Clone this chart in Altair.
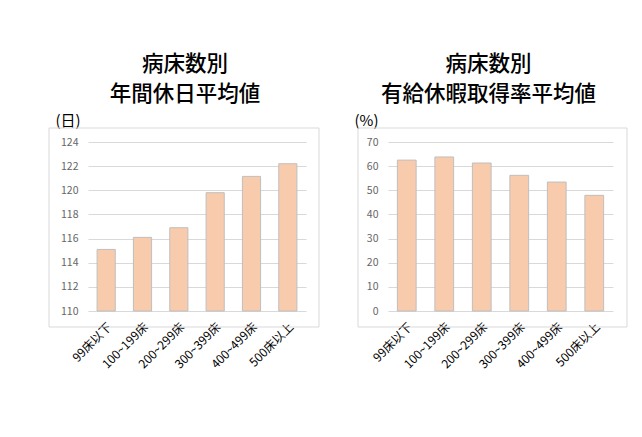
import altair as alt
import pandas as pd

categories = ["99床以下", "100~199床", "200~299床", "300~399床", "400~499床", "500床以上"]
holidays = [115.1, 116.1, 116.9, 119.8, 121.15, 122.2]
paid_leave = [62.5, 63.8, 61.3, 56.2, 53.4, 47.9]
left_ticks = [110, 112, 114, 116, 118, 120, 122, 124]
right_ticks = [0, 10, 20, 30, 40, 50, 60, 70]
left_title = ["病床数別", "年間休日平均値"]
right_title = ["病床数別", "有給休暇取得率平均値"]
left_unit = "(日)"
right_unit = "(%)"

FONT = "Noto Sans CJK JP"


def panel(values, ticks, lo, hi, unit, title, width, frame, unit_x):
    df = pd.DataFrame({"cat": categories, "val": values})
    bars = alt.Chart(df).mark_bar(fill="#F8CBAD", stroke="#BFBFBF", strokeWidth=1).encode(
        x=alt.X("cat:N", sort=categories,
                scale=alt.Scale(paddingInner=0.5, paddingOuter=0.25),
                axis=alt.Axis(title=None, labelAngle=-45, labelFontSize=12,
                              labelColor="#000000", ticks=False, domain=False,
                              labelPadding=10, labelFont=FONT)),
        y=alt.Y("val:Q", scale=alt.Scale(domain=[lo, hi], zero=False, nice=False),
                axis=alt.Axis(values=ticks, title=unit, titleAngle=0, titleX=unit_x,
                              titleY=-22, titleAlign="left", titleBaseline="middle",
                              titleFontSize=15, titleFontWeight="normal", titleFont=FONT,
                              titleColor="#000000",
                              labelFontSize=10.5, labelColor="#666666", labelFont=FONT,
                              ticks=False, domain=False, labelPadding=10,
                              gridColor="#D9D9D9")),
        y2=alt.datum(lo),
    )
    box = alt.Chart(pd.DataFrame({"k": [0]})).mark_rect(
        fillOpacity=0, stroke="#D9D9D9", strokeWidth=1
    ).encode(
        x=alt.value(frame[0]), x2=alt.value(frame[1]),
        y=alt.value(frame[2]), y2=alt.value(frame[3]),
    )
    return alt.layer(box, bars).properties(
        width=width, height=169,
        title=alt.Title(title, fontSize=21.5, fontWeight=500, lineHeight=30,
                        anchor="middle", font=FONT, color="#000000", offset=8, dx=-12),
    )


left = panel(holidays, left_ticks, 110, 124, left_unit, left_title, 218,
             (-39, 231, -14, 185), -33)
right = panel(paid_leave, right_ticks, 0, 70, right_unit, right_title, 225,
              (-30, 239, -14, 185), -34)

chart = alt.hconcat(left, right, spacing=34).properties(
    padding={"left": 40, "top": 45, "right": 5, "bottom": 5}
).configure_view(strokeWidth=0)

chart.save("out.html", embed_options={"renderer": "svg", "actions": False})
